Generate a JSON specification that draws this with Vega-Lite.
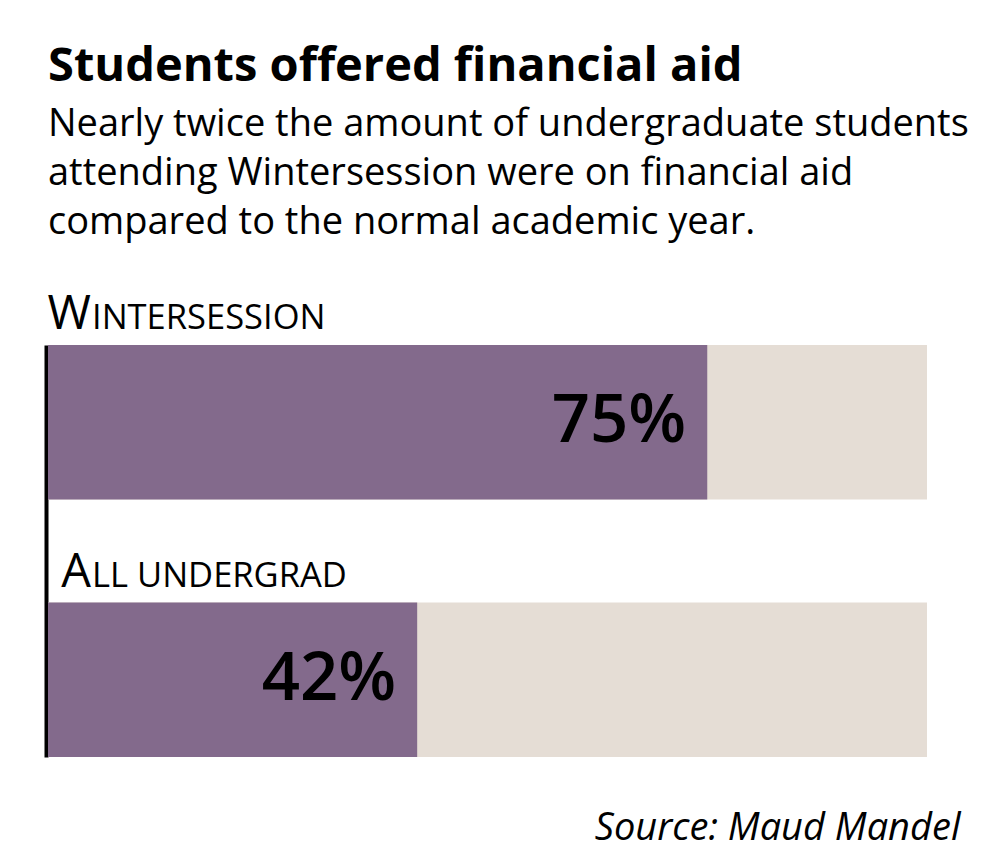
{
  "$schema": "https://vega.github.io/schema/vega-lite/v6.json",
  "width": 879,
  "height": 412,
  "autosize": "none",
  "padding": {"left": 48, "top": 345, "right": 73, "bottom": 110},
  "background": "white",
  "title": {
    "text": "Students offered financial aid",
    "subtitle": ["Nearly twice the amount of undergraduate students", "attending Wintersession were on financial aid", "compared to the normal academic year."],
    "anchor": "start",
    "frame": "group",
    "font": "Open Sans",
    "fontSize": 47,
    "fontWeight": "bold",
    "color": "black",
    "subtitleFont": "Open Sans",
    "subtitleFontSize": 38,
    "subtitleColor": "black",
    "subtitleLineHeight": 49,
    "subtitlePadding": 15,
    "offset": 48
  },
  "data": {
    "values": [
      {"category": "Wintersession", "initial": "W", "rest": "INTERSESSION", "pct": 75, "label": "75%"},
      {"category": "All undergrad", "initial": "A", "rest": "LL UNDERGRAD", "pct": 42, "label": "42%"}
    ]
  },
  "encoding": {
    "y": {
      "field": "category", "type": "nominal", "sort": null,
      "scale": {"paddingInner": 0.4, "paddingOuter": 0},
      "axis": {"domain": true, "domainColor": "black", "domainWidth": 4, "ticks": false, "labels": false, "title": null, "offset": 2, "grid": false}
    }
  },
  "layer": [
    {
      "mark": {"type": "bar", "color": "#e5ddd5"},
      "encoding": {
        "x": {"datum": 100, "type": "quantitative", "scale": {"domain": [0, 100], "nice": false}, "title": "Source: Maud Mandel",
          "axis": {"domain": false, "ticks": false, "labels": false, "grid": false, "titleFont": "Open Sans", "titleFontStyle": "italic", "titleFontWeight": "normal", "titleFontSize": 38, "titleColor": "black", "titleAlign": "right", "titleAnchor": "end", "titleX": 912, "titlePadding": 52}}
      }
    },
    {
      "mark": {"type": "bar", "color": "#836a8c"},
      "encoding": {"x": {"field": "pct", "type": "quantitative", "title": "Source: Maud Mandel"}}
    },
    {
      "mark": {"type": "text", "align": "right", "baseline": "middle", "dx": -21, "font": "Open Sans", "fontSize": 67, "fontWeight": 600, "color": "black"},
      "encoding": {"x": {"field": "pct", "type": "quantitative", "title": "Source: Maud Mandel"}, "text": {"field": "label"}}
    },
    {
      "mark": {"type": "text", "align": "right", "baseline": "alphabetic", "dx": 43, "dy": -16, "font": "Open Sans", "fontSize": 47, "color": "black"},
      "encoding": {
        "x": {"datum": 0, "type": "quantitative", "title": "Source: Maud Mandel"},
        "y": {"field": "category", "type": "nominal", "sort": null, "bandPosition": 0},
        "text": {"field": "initial"}
      }
    },
    {
      "mark": {"type": "text", "align": "left", "baseline": "alphabetic", "dx": 44, "dy": -16, "font": "Open Sans", "fontSize": 34.5, "color": "black"},
      "encoding": {
        "x": {"datum": 0, "type": "quantitative", "title": "Source: Maud Mandel"},
        "y": {"field": "category", "type": "nominal", "sort": null, "bandPosition": 0},
        "text": {"field": "rest"}
      }
    }
  ],
  "config": {"view": {"stroke": null}}
}
